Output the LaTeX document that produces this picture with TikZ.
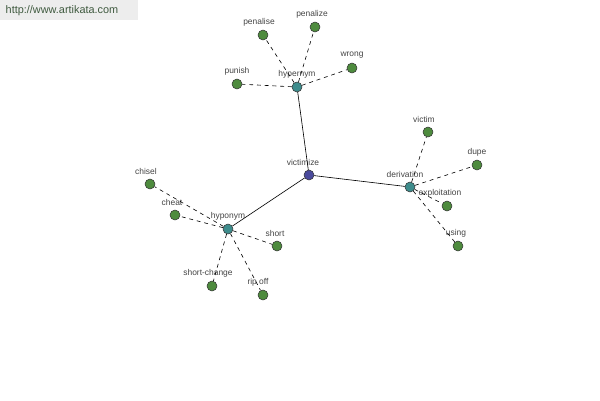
\documentclass[tikz,border=0pt]{standalone}
\usepackage{fontspec}
\setmainfont{Liberation Sans}
\definecolor{leafgreen}{HTML}{4E8B3E}
\definecolor{hubteal}{HTML}{3E8C8C}
\definecolor{rootblue}{HTML}{4A4A9C}
\definecolor{lblgray}{HTML}{444444}
\definecolor{boxgray}{HTML}{EDEDED}
\definecolor{urlgreen}{HTML}{3F5A3F}
\begin{document}
\begin{tikzpicture}[x=0.02cm,y=-0.02cm,
  every node/.style={circle,draw=black!80,line width=0.3pt,minimum size=0.2cm,inner sep=0pt,
    label distance=0.045cm},
  every label/.style={draw=none,rectangle,inner sep=0pt,text=lblgray,
    font=\fontsize{4.8}{5}\selectfont},
  leaf/.style={fill=leafgreen},
  hub/.style={fill=hubteal},
  root/.style={fill=rootblue},
  rel/.style={dash pattern=on 2.2pt off 2.2pt,line width=0.35pt}]
\useasboundingbox (0,0) rectangle (600,400);
\fill[boxgray] (0,0) rectangle (138,20);
\node[draw=none,rectangle,text=urlgreen,font=\fontsize{6.2}{7}\selectfont,minimum size=0pt] (url) at (62,11) {http://www.artikata.com};
% nodes
\node[root,label={[xshift=-0.12cm]above:victimize}] (victimize) at (309,175) {};
\node[hub,label=above:hypernym] (hypernym) at (297,87) {};
\node[hub,label={[xshift=-0.1cm]above:derivation}] (derivation) at (410,187) {};
\node[hub,label=above:hyponym] (hyponym) at (228,229) {};
\node[leaf,label={[xshift=-0.08cm]above:penalise}] (penalise) at (263,35) {};
\node[leaf,label={[xshift=-0.06cm]above:penalize}] (penalize) at (315,27) {};
\node[leaf,label=above:wrong] (wrong) at (352,68) {};
\node[leaf,label=above:punish] (punish) at (237,84) {};
\node[leaf,label={[xshift=-0.08cm]above:victim}] (victim) at (428,132) {};
\node[leaf,label=above:dupe] (dupe) at (477,165) {};
\node[leaf,label={[xshift=-0.14cm]above:exploitation}] (exploitation) at (447,206) {};
\node[leaf,label={[xshift=-0.04cm]above:using}] (using) at (458,246) {};
\node[leaf,label={[xshift=-0.08cm]above:chisel}] (chisel) at (150,184) {};
\node[leaf,label={[xshift=-0.06cm]above:cheat}] (cheat) at (175,215) {};
\node[leaf,label={[xshift=-0.04cm]above:short}] (short) at (277,246) {};
\node[leaf,label={[xshift=-0.08cm]above:short-change}] (shortchange) at (212,286) {};
\node[leaf,label={[xshift=-0.1cm]above:rip off}] (ripoff) at (263,295) {};
% edges
\draw[line width=0.35pt] (victimize) -- (hypernym);
\draw[line width=0.35pt] (victimize) -- (derivation);
\draw[line width=0.35pt] (victimize) -- (hyponym);
\foreach \t in {penalise,penalize,wrong,punish}
  \draw[rel] (hypernym) -- (\t);
\foreach \t in {victim,dupe,exploitation,using}
  \draw[rel] (derivation) -- (\t);
\foreach \t in {chisel,cheat,short,shortchange,ripoff}
  \draw[rel] (hyponym) -- (\t);
\end{tikzpicture}
\end{document}
